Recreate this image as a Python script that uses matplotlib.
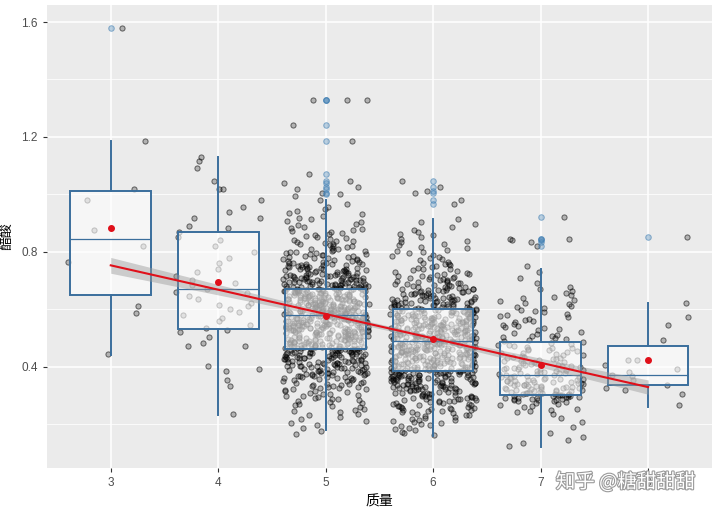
import numpy as np
import matplotlib
import matplotlib.pyplot as plt
import matplotlib.patheffects as pe

matplotlib.use('Agg')
plt.rcParams['font.family'] = ['Liberation Sans', 'Noto Sans CJK SC', 'DejaVu Sans']

## Data: volatile acidity (醋酸) per quality (质量)
qualities = [3, 4, 5, 6, 7, 8]

# small groups, every value
vals_3 = [1.58, 1.185, 1.02, 0.98, 0.875, 0.82, 0.765, 0.61, 0.585, 0.445]
vals_4 = [1.131, 1.117, 1.09, 1.045, 1.02, 1.02, 0.979, 0.955, 0.938, 0.917, 0.917, 0.89, 0.883, 0.87,
          0.85, 0.84, 0.82, 0.80, 0.78, 0.76, 0.74, 0.73, 0.715, 0.70, 0.69, 0.685, 0.67,
          0.66, 0.655, 0.645, 0.635, 0.62, 0.615, 0.61, 0.60, 0.59, 0.58, 0.57, 0.56, 0.545,
          0.535, 0.527, 0.52, 0.503, 0.483, 0.472, 0.472, 0.403, 0.393, 0.386, 0.355, 0.334, 0.234]
vals_8 = [0.85, 0.621, 0.572, 0.545, 0.493, 0.424, 0.424, 0.407, 0.39, 0.38, 0.37, 0.366,
          0.355, 0.335, 0.325, 0.317, 0.303, 0.266]

# large groups: counts per 0.04 bin (bins start 0.12, 0.16, ... 0.96) plus tail values
bin_lo = [0.12, 0.16, 0.20, 0.24, 0.28, 0.32, 0.36, 0.40, 0.44, 0.48, 0.52,
          0.56, 0.60, 0.64, 0.68, 0.72, 0.76, 0.80, 0.84, 0.88, 0.92, 0.96]
counts_5 = [0, 4, 6, 10, 16, 22, 36, 44, 56, 58, 68, 72, 68, 62, 50, 36, 24, 16, 12, 8, 6, 3]
counts_6 = [0, 8, 14, 24, 32, 46, 56, 60, 62, 62, 58, 54, 42, 32, 22, 14, 10, 8, 6, 4, 0, 0]
counts_7 = [4, 2, 3, 10, 36, 34, 26, 20, 16, 12, 10, 9, 8, 6, 2, 2, 0, 0, 0, 0, 0, 0]
tail_5 = [1.33, 1.33, 1.33, 1.24, 1.185, 1.07, 1.045, 1.04, 1.025, 1.02, 1.005, 1.0]
tail_6 = [1.045, 1.025, 1.01, 1.005, 0.98, 0.965]
tail_7 = [0.92, 0.845, 0.845, 0.84, 0.835, 0.82]

# box statistics and means
q1 = [0.648, 0.53, 0.46, 0.385, 0.30, 0.335]
med = [0.845, 0.67, 0.58, 0.49, 0.37, 0.37]
q3 = [1.01, 0.87, 0.67, 0.60, 0.485, 0.4725]
whis_lo = [0.44, 0.23, 0.18, 0.16, 0.12, 0.26]
whis_hi = [1.185, 1.13, 0.98, 0.915, 0.74, 0.62]
fliers = [[1.58], [], tail_5, tail_6, tail_7, [0.85]]
means = [0.884, 0.694, 0.577, 0.497, 0.404, 0.423]


def expand(counts, tail):
    out = []
    for lo, n in zip(bin_lo, counts):
        if n:
            out += list(lo + (np.arange(n) + 0.5) * 0.04 / n)
    return out + tail


groups = [vals_3, vals_4, expand(counts_5, tail_5), expand(counts_6, tail_6),
          expand(counts_7, tail_7), vals_8]

## Figure
fig = plt.figure(figsize=(7.2, 5.12), dpi=100)
ax = fig.add_axes([0.065, 0.086, 0.924, 0.904])
ax.set_facecolor('#EBEBEB')
for s in ax.spines.values():
    s.set_visible(False)

ax.set_xlim(2.405, 8.595)
ax.set_ylim(0.047, 1.659)
ax.set_xticks(qualities)
ax.set_yticks([0.4, 0.8, 1.2, 1.6])
ax.set_yticklabels(['0.4', '0.8', '1.2', '1.6'])
ax.set_yticks([0.2, 0.6, 1.0, 1.4], minor=True)
ax.grid(which='major', color='white', lw=1.1, zorder=0)
ax.grid(which='minor', axis='y', color='white', lw=0.55, zorder=0)
ax.set_axisbelow(True)
ax.tick_params(which='major', length=3, color='#333333', labelcolor='#4D4D4D', labelsize=8.5)
ax.tick_params(which='minor', length=0)

# jittered points
rng = np.random.default_rng(7)
xs_all, ys_all = [], []
for q, ys in zip(qualities, groups):
    ys = np.array(ys)
    xs = q + rng.uniform(-0.4, 0.4, len(ys))
    ax.scatter(xs, ys, s=14, facecolor=(0, 0, 0, 0.24), edgecolor=(0, 0, 0, 0.55),
               linewidths=0.7, zorder=2)
    xs_all += [q] * len(ys)
    ys_all += list(ys)

# boxplots
stats = []
for i in range(len(qualities)):
    stats.append(dict(q1=q1[i], med=med[i], q3=q3[i], whislo=whis_lo[i],
                      whishi=whis_hi[i], fliers=fliers[i]))
box_c = '#3A6E9C'
ax.bxp(stats, positions=qualities, widths=0.75, patch_artist=True, showcaps=False,
       boxprops=dict(facecolor=(1, 1, 1, 0.6), edgecolor=box_c, lw=1.4),
       whiskerprops=dict(color=box_c, lw=1.4),
       medianprops=dict(color=box_c, lw=0.9),
       flierprops=dict(marker='o', markersize=4, markerfacecolor=(0.27, 0.51, 0.71, 0.35),
                       markeredgecolor=(0.27, 0.51, 0.71, 0.6), markeredgewidth=0.7),
       manage_ticks=False, zorder=3)

# linear fit with 95% band
x = np.array(xs_all, dtype=float)
y = np.array(ys_all)
b, a = np.polyfit(x, y, 1)
n = len(x)
resid = y - (a + b * x)
s_err = np.sqrt(np.sum(resid ** 2) / (n - 2))
xg = np.linspace(3, 8, 100)
se = s_err * np.sqrt(1 / n + (xg - x.mean()) ** 2 / np.sum((x - x.mean()) ** 2))
yg = a + b * xg
ax.fill_between(xg, yg - 1.96 * se, yg + 1.96 * se, color='#999999', alpha=0.45,
                lw=0, zorder=4)
ax.plot(xg, yg, color='#E0101A', lw=1.5, zorder=5)

# group means
ax.scatter(qualities, means, s=16, color='#E0101A', zorder=6)

ax.set_xlabel('质量', fontsize=10, labelpad=4)
ax.set_ylabel('醋酸', fontsize=10)
ax.yaxis.set_label_coords(-0.05, 0.5)

fig.text(0.772, 0.058, '知乎 @糖甜甜甜', fontsize=14, color='white', va='center',
         family=['Noto Sans CJK SC', 'DejaVu Sans'],
         path_effects=[pe.withStroke(linewidth=1.6, foreground='#9A9A9A')])

fig.savefig('out.png', dpi=100)
plt.close()
